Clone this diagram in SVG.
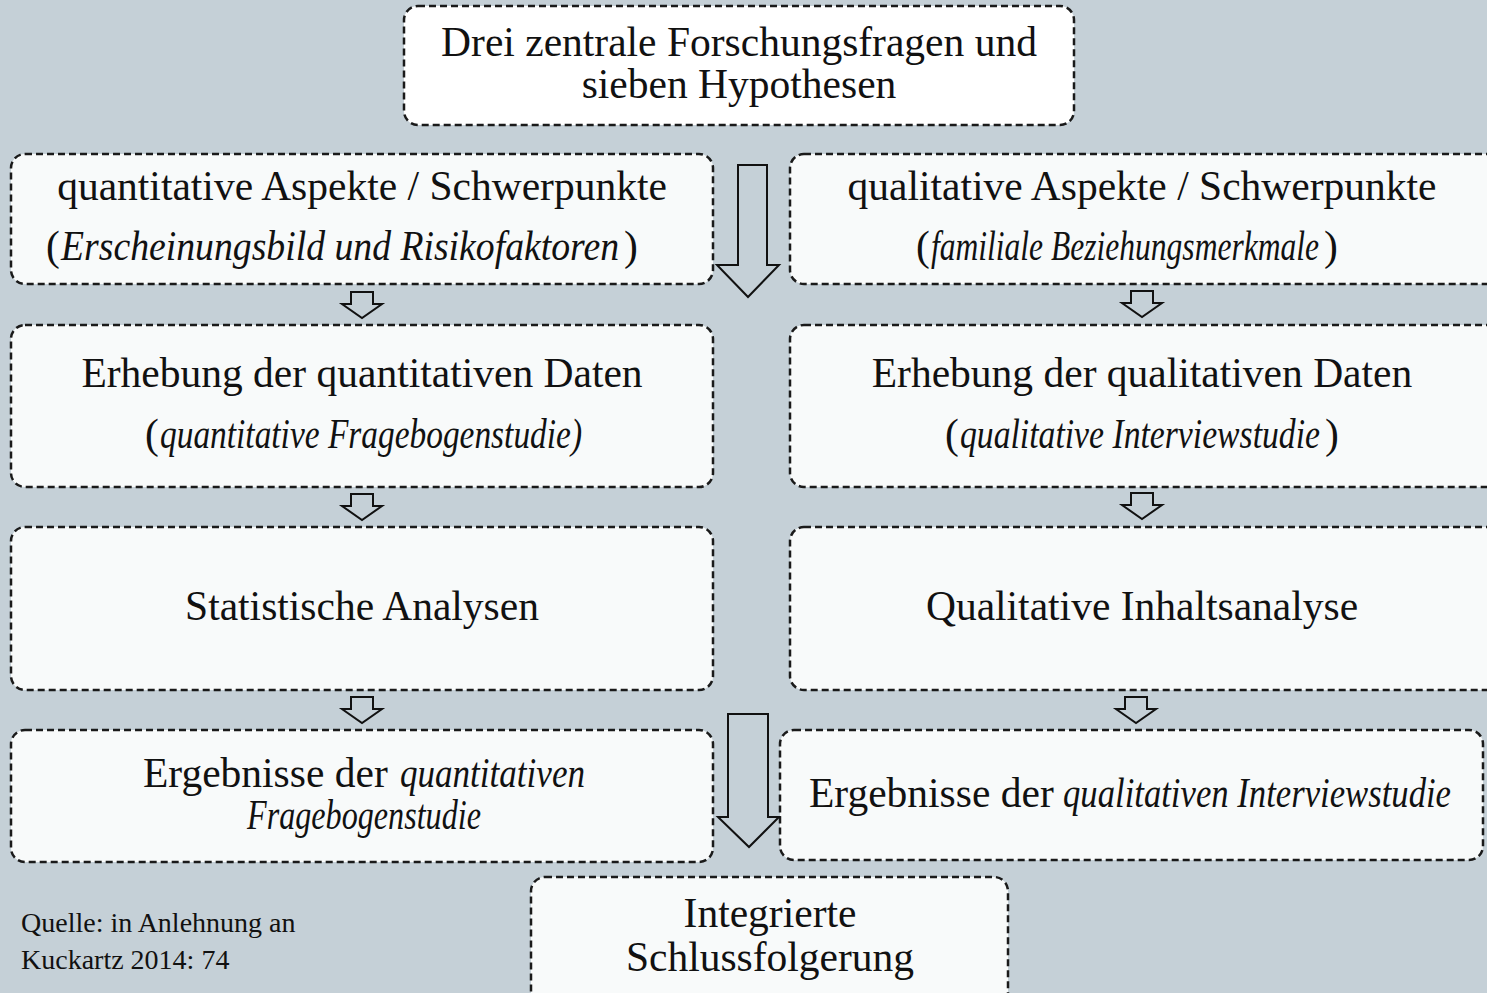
<svg xmlns="http://www.w3.org/2000/svg" width="1487" height="993" viewBox="0 0 1487 993">
<style>
.box{fill:#f8fafa;stroke:#1a1a1a;stroke-width:2.5;stroke-dasharray:7 4}
.top{fill:#ffffff}
.t{font-family:"Liberation Serif","Times New Roman",serif;font-size:41.5px;fill:#111;text-anchor:middle}
.s{font-family:"Liberation Serif","Times New Roman",serif;font-size:41.5px;fill:#111}
.i{font-style:italic}
.src{font-family:"Liberation Serif","Times New Roman",serif;font-size:28px;fill:#111}
.arr{fill:#c5d0d7;stroke:#111;stroke-width:2}
</style>
<defs>
<path id="sa" d="M-11,0 H11 V12 H20 L0,26 L-20,12 H-11 Z"/>
</defs>
<rect width="1487" height="993" fill="#c5d0d7"/>

<g id="node-top">
<rect class="box top" x="404" y="6" width="670" height="119" rx="14"/>
<text class="t" x="739" y="56">Drei zentrale Forschungsfragen und</text>
<text class="t" x="739" y="98">sieben Hypothesen</text>
</g>

<g id="node-quant-aspekte">
<rect class="box" x="11" y="154" width="702" height="130" rx="14"/>
<text class="t" x="362" y="200">quantitative Aspekte / Schwerpunkte</text>
<text class="s" x="46" y="260">(</text>
<text class="s i" x="61" y="260" textLength="558" lengthAdjust="spacingAndGlyphs">Erscheinungsbild und Risikofaktoren</text>
<text class="s" x="624" y="260">)</text>
</g>

<g id="node-qual-aspekte">
<rect class="box" x="790" y="154" width="710" height="130" rx="14"/>
<text class="t" x="1142" y="200">qualitative Aspekte / Schwerpunkte</text>
<text class="s" x="916" y="260">(</text>
<text class="s i" x="931" y="260" textLength="388" lengthAdjust="spacingAndGlyphs">familiale Beziehungsmerkmale</text>
<text class="s" x="1324" y="260">)</text>
</g>

<g id="node-quant-erhebung">
<rect class="box" x="11" y="325" width="702" height="162" rx="14"/>
<text class="t" x="362" y="387">Erhebung der quantitativen Daten</text>
<text class="s" x="145" y="448">(</text>
<text class="s i" x="160" y="448" textLength="422" lengthAdjust="spacingAndGlyphs">quantitative Fragebogenstudie)</text>
</g>

<g id="node-qual-erhebung">
<rect class="box" x="790" y="325" width="710" height="162" rx="14"/>
<text class="t" x="1142" y="387">Erhebung der qualitativen Daten</text>
<text class="s" x="945" y="448">(</text>
<text class="s i" x="960" y="448" textLength="360" lengthAdjust="spacingAndGlyphs">qualitative Interviewstudie</text>
<text class="s" x="1325" y="448">)</text>
</g>

<g id="node-statistik">
<rect class="box" x="11" y="527" width="702" height="163" rx="14"/>
<text class="t" x="362" y="620">Statistische Analysen</text>
</g>

<g id="node-inhaltsanalyse">
<rect class="box" x="790" y="527" width="710" height="163" rx="14"/>
<text class="t" x="1142" y="620">Qualitative Inhaltsanalyse</text>
</g>

<g id="node-quant-ergebnisse">
<rect class="box" x="11" y="730" width="702" height="132" rx="14"/>
<text class="s" x="143" y="787">Ergebnisse der</text>
<text class="s i" x="400" y="787" textLength="185" lengthAdjust="spacingAndGlyphs">quantitativen</text>
<text class="s i" x="247" y="829" textLength="234" lengthAdjust="spacingAndGlyphs">Fragebogenstudie</text>
</g>

<g id="node-qual-ergebnisse">
<rect class="box" x="780" y="730" width="703" height="130" rx="14"/>
<text class="s" x="809" y="807">Ergebnisse der</text>
<text class="s i" x="1063" y="807" textLength="388" lengthAdjust="spacingAndGlyphs">qualitativen Interviewstudie</text>
</g>

<g id="node-integration">
<rect class="box" x="531" y="877" width="477" height="130" rx="14"/>
<text class="t" x="770" y="927">Integrierte</text>
<text class="t" x="770" y="971">Schlussfolgerung</text>
</g>

<g id="connectors">
<path class="arr" d="M738,165 H767 V265 H779 L748,297 L717,265 H738 Z"/>
<path class="arr" d="M728,714 H768 V817 H779 L749,847 L718,817 H728 Z"/>
<use href="#sa" class="arr" x="362" y="292"/>
<use href="#sa" class="arr" x="1142" y="291"/>
<use href="#sa" class="arr" x="362" y="494"/>
<use href="#sa" class="arr" x="1142" y="493"/>
<use href="#sa" class="arr" x="362" y="697"/>
<use href="#sa" class="arr" x="1136" y="697"/>
</g>

<g id="source">
<text class="src" x="21" y="932">Quelle: in Anlehnung an</text>
<text class="src" x="21" y="969">Kuckartz 2014: 74</text>
</g>
</svg>
